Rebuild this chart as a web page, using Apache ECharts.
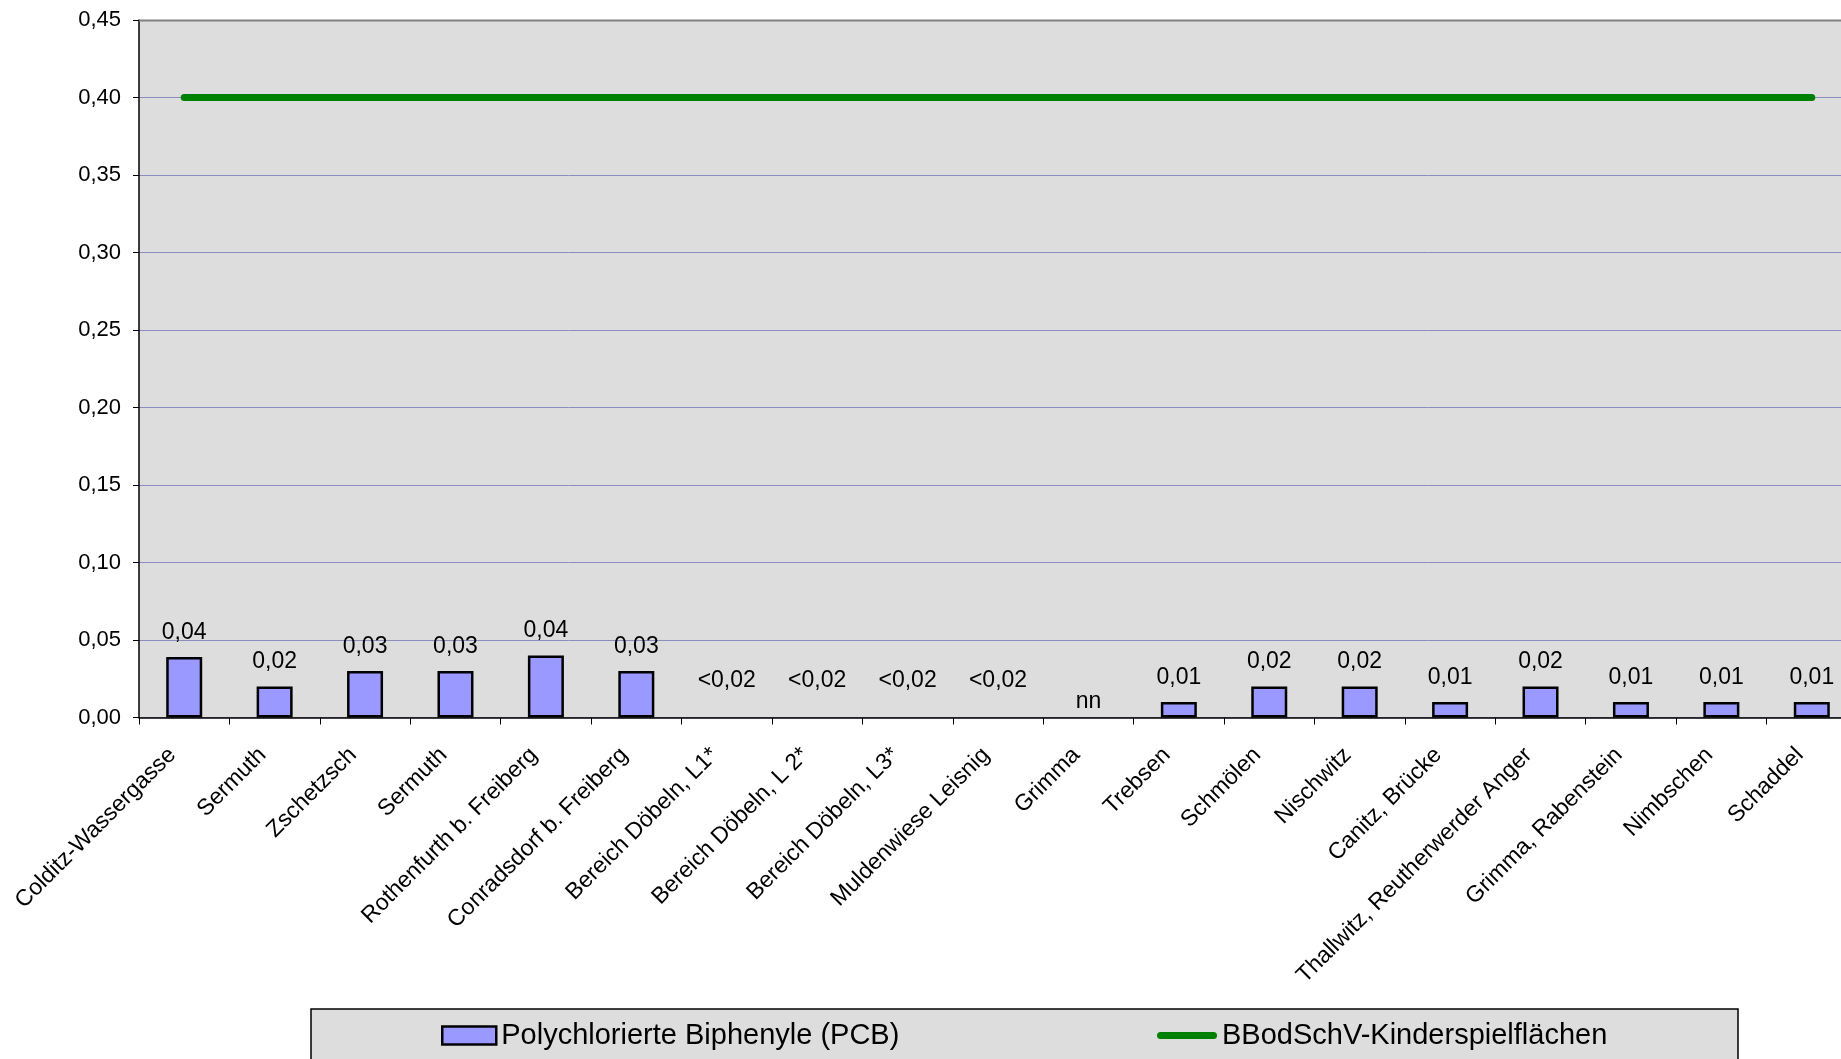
<!DOCTYPE html>
<html>
<head>
<meta charset="utf-8">
<script src="https://cdn.jsdelivr.net/npm/echarts@6/dist/echarts.min.js"></script>
<style>
html,body{margin:0;padding:0;background:#fff;overflow:hidden;}
#c{width:1880px;height:1059px;}
</style>
</head>
<body>
<div id="c"></div>
<script>
const categories = ['Colditz-Wassergasse','Sermuth','Zschetzsch','Sermuth','Rothenfurth b. Freiberg','Conradsdorf b. Freiberg','Bereich Döbeln, L1*','Bereich Döbeln, L 2*','Bereich Döbeln, L3*','Muldenwiese Leisnig','Grimma','Trebsen','Schmölen','Nischwitz','Canitz, Brücke','Thallwitz, Reutherwerder Anger','Grimma, Rabenstein','Nimbschen','Schaddel'];
const pcbValues = [0.039,0.02,0.03,0.03,0.04,0.03,0,0,0,0,0,0.01,0.02,0.02,0.01,0.02,0.01,0.01,0.01];
const pcbLabels = ['0,04','0,02','0,03','0,03','0,04','0,03','<0,02','<0,02','<0,02','<0,02','nn','0,01','0,02','0,02','0,01','0,02','0,01','0,01','0,01'];
const limitValues = [0.4,0.4,0.4,0.4,0.4,0.4,0.4,0.4,0.4,0.4,0.4,0.4,0.4,0.4,0.4,0.4,0.4,0.4,0.4];
const seriesNames = ['Polychlorierte Biphenyle (PCB)','BBodSchV-Kinderspielflächen'];

const FONT = '"Liberation Sans", Arial, sans-serif';
const labelShift = {'<0,02': -12, 'nn': 9};

const barData = pcbValues.map((v, i) => {
  const item = {
    value: v,
    label: {formatter: pcbLabels[i], offset: [0, labelShift[pcbLabels[i]] || 0]}
  };
  if (v === 0) item.itemStyle = {borderWidth: 0, color: 'rgba(0,0,0,0)'};
  return item;
});

const chart = echarts.init(document.getElementById('c'), null, {renderer: 'canvas'});
chart.setOption({
  animation: false,
  backgroundColor: '#ffffff',
  textStyle: {fontFamily: FONT, color: '#000'},
  grid: {left: 139, top: 20, width: 1718, height: 697.5, backgroundColor: '#DDDDDD', show: true, borderWidth: 0},
  graphic: [
    {type: 'rect', z: 0, shape: {x: 311, y: 1009, width: 1427, height: 80}, style: {fill: '#DDDDDD', stroke: '#000', lineWidth: 1.5}},
    {type: 'line', z: 100, shape: {x1: 139, y1: 20.5, x2: 1880, y2: 20.5}, style: {stroke: '#808080', lineWidth: 2}}
  ],
  legend: [
    {
      data: [seriesNames[0]], left: 441, top: 1021, padding: 0,
      itemWidth: 54, itemHeight: 18, icon: 'rect',
      itemStyle: {color: '#9999FF', borderColor: '#000', borderWidth: 2.5},
      textStyle: {fontFamily: FONT, fontSize: 29, color: '#000'}
    },
    {
      data: [seriesNames[1]], left: 1157, top: 1021, padding: 0,
      itemWidth: 60, itemHeight: 7,
      icon: 'path://M3.5,0 L56.5,0 A3.5,3.5 0 0 1 56.5,7 L3.5,7 A3.5,3.5 0 0 1 3.5,0 Z',
      itemStyle: {color: '#008000', borderWidth: 0},
      textStyle: {fontFamily: FONT, fontSize: 29, color: '#000'}
    }
  ],
  xAxis: {
    type: 'category',
    data: categories,
    boundaryGap: true,
    axisLine: {show: true, lineStyle: {color: '#000', width: 1.5}},
    axisTick: {show: true, length: 7, alignWithLabel: false, interval: 0, lineStyle: {color: '#000', width: 1}},
    axisLabel: {interval: 0, rotate: 45, margin: 22, fontSize: 23, color: '#000', fontFamily: FONT,
      formatter: v => '{a|' + v + '}',
      rich: {a: {fontSize: 23, fontFamily: FONT, color: '#000', padding: [0, 17, 0, 0]}}},
    splitLine: {show: false}
  },
  yAxis: {
    type: 'value',
    min: 0, max: 0.45, interval: 0.05,
    axisLine: {show: true, lineStyle: {color: '#000', width: 1.5}},
    axisTick: {show: true, length: 6, inside: false, lineStyle: {color: '#000'}},
    axisLabel: {margin: 18, fontSize: 22, color: '#000', fontFamily: FONT,
      formatter: v => v.toFixed(2).replace('.', ',')},
    splitLine: {show: true, lineStyle: {color: '#8c8cc0', width: 1}}
  },
  series: [
    {
      name: seriesNames[0],
      type: 'bar',
      data: barData,
      barWidth: 36,
      itemStyle: {color: '#9999FF', borderColor: '#000', borderWidth: 2.5},
      label: {show: true, position: 'top', distance: 13, fontSize: 23, color: '#000', fontFamily: FONT},
      z: 2
    },
    {
      name: seriesNames[1],
      type: 'line',
      data: limitValues,
      symbol: 'none',
      showSymbol: false,
      lineStyle: {color: '#008000', width: 7, cap: 'round'},
      itemStyle: {color: '#008000'},
      z: 3
    }
  ]
});
</script>
</body>
</html>
